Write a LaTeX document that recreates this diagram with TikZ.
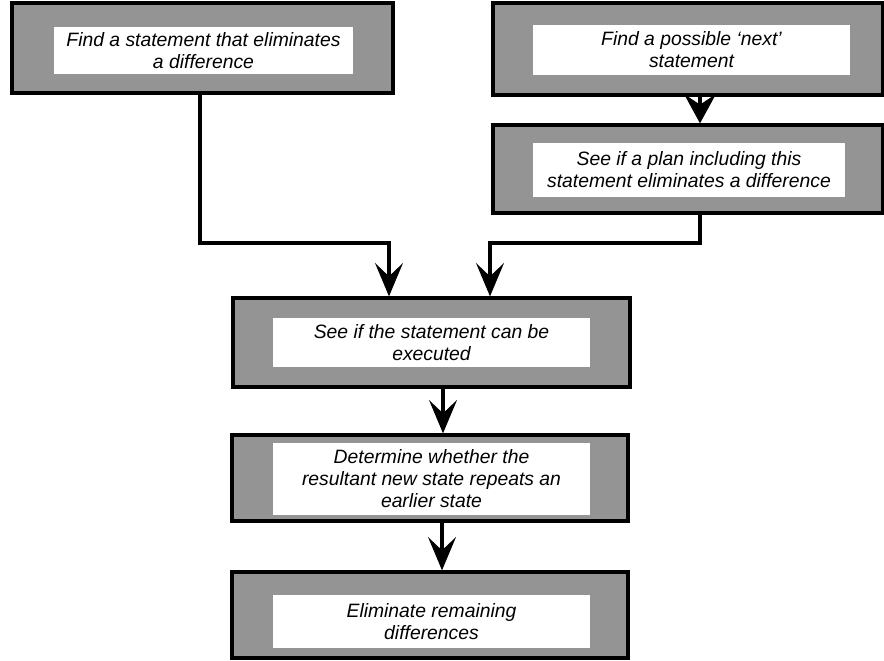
\documentclass[tikz,border=0pt]{standalone}
\usepackage{fontspec}
\setmainfont{Liberation Sans}
\usetikzlibrary{arrows.meta,calc}
\begin{document}
\begin{tikzpicture}[x=0.75pt,y=-0.75pt,
  outerbox/.style={draw=black,line width=2.5pt,fill=black!42,inner sep=0pt},
  innerbox/.style={fill=white,inner sep=0pt,align=center,
    font=\fontsize{14.5}{16.5}\selectfont\itshape},
  conn/.style={line width=2.4pt,-{Stealth[length=25pt,width=21pt,inset=10pt,line width=1pt]}},
  shortconn/.style={line width=2.4pt,-{Stealth[length=22pt,width=24pt,inset=8pt,line width=1pt]}}]
\useasboundingbox (0,0) rectangle (884,660);
% boxes
\node[outerbox,minimum width=381*0.75pt,minimum height=90*0.75pt] (b1) at (202.5,48) {};
\node[innerbox,minimum width=299*0.75pt,minimum height=47*0.75pt] (t1) at (203.5,50.5) {Find a statement that eliminates\\a difference};
\node[outerbox,minimum width=390*0.75pt,minimum height=92*0.75pt] (b2) at (688,49) {};
\node[innerbox,minimum width=317*0.75pt,minimum height=50*0.75pt] (t2) at (691.5,50) {Find a possible `next'\\statement};
\node[outerbox,minimum width=390*0.75pt,minimum height=88*0.75pt] (b3) at (688,169) {};
\node[innerbox,minimum width=312*0.75pt,minimum height=54*0.75pt] (t3) at (689,170) {See if a plan including this\\statement eliminates a difference};
\node[outerbox,minimum width=397*0.75pt,minimum height=89*0.75pt] (b4) at (431.5,342.5) {};
\node[innerbox,minimum width=317*0.75pt,minimum height=49*0.75pt] (t4) at (431.5,342.5) {See if the statement can be\\executed};
\node[outerbox,minimum width=396*0.75pt,minimum height=86*0.75pt] (b5) at (430,478) {};
\node[innerbox,minimum width=317*0.75pt,minimum height=72*0.75pt] (t5) at (431.5,479) {Determine whether the\\resultant new state repeats an\\earlier state};
\node[outerbox,minimum width=396*0.75pt,minimum height=86*0.75pt] (b6) at (430,615) {};
\node[innerbox,minimum width=317*0.75pt,minimum height=53*0.75pt] (t6) at (431.5,621.5) {Eliminate remaining\\differences};
% connector coordinates
\coordinate (s1) at (200,93);
\coordinate (j1) at (200,243);
\coordinate (e1) at (389,298);
\coordinate (s3) at (700,213);
\coordinate (j3) at (700,243);
\coordinate (e3) at (490,298);
% connectors
\draw[shortconn] (b2.south -| s3) -- (b3.north -| s3);
\draw[conn] (b1.south -| s1) -- (j1) -| (b4.north -| e1);
\draw[conn] (b3.south -| s3) -- (j3) -| (b4.north -| e3);
\draw[conn] (b4.south -| 443,0) -- (b5.north -| 443,0);
\draw[conn] (b5.south -| 442,0) -- (b6.north -| 442,0);
\end{tikzpicture}
\end{document}
